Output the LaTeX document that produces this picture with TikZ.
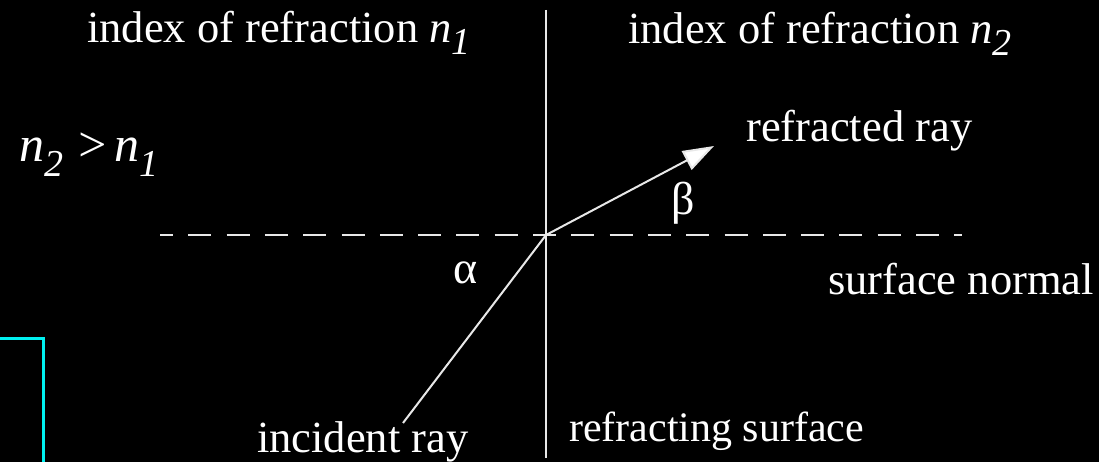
\documentclass[tikz,border=0pt]{standalone}
\usepackage{fontspec}
\setmainfont{Liberation Serif}
\usetikzlibrary{arrows.meta}
\definecolor{linegray}{RGB}{232,232,232}
\definecolor{boxcyan}{RGB}{0,240,240}
\newcommand\mysub[2]{\raisebox{-#1}{\fontsize{38}{42}\selectfont\itshape #2}}
\begin{document}
\begin{tikzpicture}[x=1pt,y=-1pt,
  lbl/.style={inner sep=0pt,anchor=base west,text=white,font=\fontsize{44.5}{50}\selectfont},
  greek/.style={inner sep=0pt,text=white,font=\fontsize{46}{50}\selectfont},
  ray/.style={draw=linegray,line width=2pt},
  raydash/.style={draw=linegray,line width=2.4pt,dash pattern=on 23pt off 15.3pt,dash phase=10pt}]
\fill[black] (0,0) rectangle (1099,462);
\useasboundingbox (0,0) rectangle (1099,462);
% cyan box corner
\draw[boxcyan,line width=3pt] (-5,338) -- (43,338) -- (43,470);
% geometry
\coordinate (O) at (546,235);
\coordinate (surfT) at (546,10);
\coordinate (surfB) at (546,458);
\coordinate (normL) at (160,235);
\coordinate (normR) at (962,235);
\coordinate (inc) at (403,423);
\coordinate (tip) at (714,146);
\draw[ray] (surfT) -- (surfB);
\draw[raydash] (normL) -- (normR);
\draw[ray] (inc) -- (O);
\draw[ray,-{Triangle[length=31pt,width=21pt,fill=white]}] (O) -- (tip);
% labels
\node[lbl] (n1lab) at (87,43) {index of refraction {\itshape n}\mysub{12pt}{1}};
\node[lbl] (n2lab) at (628,44) {index of refraction {\itshape n}\mysub{12pt}{2}};
\node[lbl] (refr) at (746,142) {refracted ray};
\node[lbl] (norm) at (828,294) {surface normal};
\node[lbl,font=\fontsize{42}{48}\selectfont] (surf) at (569,441) {refracting surface};
\node[lbl] (incl) at (257,452) {incident ray};
\node[lbl,font=\fontsize{50}{56}\selectfont] (cmp) at (19,162) {\itshape n\mysub{15pt}{2}\hspace{12pt}>\hspace{6pt}n\mysub{15pt}{1}};
\node[greek] (alpha) at (466,273) {α};
\node[greek] (beta) at (683,203) {β};
\end{tikzpicture}
\end{document}
